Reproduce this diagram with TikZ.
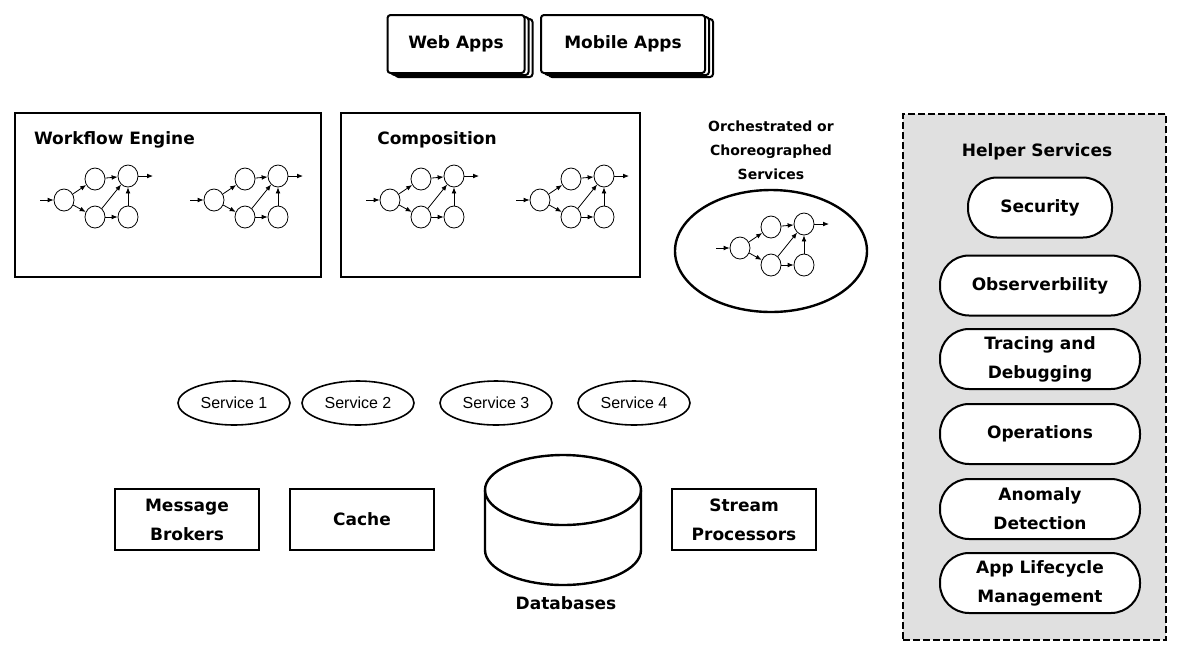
\documentclass[tikz,border=0pt]{standalone}
\usepackage{fontspec}
\setmainfont{DejaVu Sans}
\newfontfamily\svcfont{Liberation Sans}
\usetikzlibrary{shapes.geometric, shadows, arrows.meta}

\definecolor{helpergray}{RGB}{224,224,224}

\tikzset{
    lbl/.style={font=\bfseries\fontsize{8.5}{14.5}\selectfont, align=center},
    appbox/.style={lbl, draw, line width=1pt, fill=white, rounded corners=1.5pt,
        minimum height=29pt,
        double copy shadow={shadow xshift=2pt, shadow yshift=-1pt, draw, line width=1pt, fill=white}},
    panel/.style={draw, line width=1.2pt, minimum height=82pt},
    plainbox/.style={lbl, draw, line width=1pt, minimum width=72pt, minimum height=30.5pt},
    svc/.style={draw, ellipse, line width=0.8pt, inner sep=0pt, minimum width=56pt,
        minimum height=22pt, font=\svcfont\fontsize{8}{10}\selectfont},
    pill/.style={lbl, draw, line width=1pt, fill=white, rounded corners=14.5pt,
        minimum width=100pt, minimum height=30pt, inner sep=1pt},
    dot/.style={draw, ellipse, line width=0.4pt, inner sep=0pt, minimum width=10pt, minimum height=11pt},
}

\begin{document}
\begin{tikzpicture}[x=0.5pt, y=-0.5pt, >={Latex[length=3pt,width=2.4pt]}]
    \useasboundingbox (0,0) rectangle (1180,655);

    \node[appbox, minimum width=68.5pt] (web) at (456,44) {Web Apps};
    \node[appbox, minimum width=82pt] (mobile) at (623,44) {Mobile Apps};

    \node[panel, minimum width=153pt] (wfe) at (168,195) {};
    \node[lbl, anchor=west] (wfetitle) at (27,140) {Workflow Engine};
    \node[panel, minimum width=149.5pt] (comp) at (490.5,195) {};
    \node[lbl] (comptitle) at (437,140) {Composition};

    \node[lbl, font=\bfseries\fontsize{7}{12}\selectfont] (orchtitle) at (771,150)
        {Orchestrated or\\Choreographed\\Services};
    \node[draw, ellipse, line width=1.2pt, minimum width=96pt, minimum height=61pt] (orch) at (771,251) {};

    % little flow graphs
    \foreach \g/\gx/\gy in {wa/64/200, wb/214/200, ca/390/200, cb/540/200, oa/740/248} {
        \begin{scope}[shift={(\gx,\gy)}]
            \node[dot] (\g1) at (0,0) {};
            \node[dot] (\g2) at (31,-21) {};
            \node[dot] (\g3) at (64,-24) {};
            \node[dot] (\g4) at (31,17) {};
            \node[dot] (\g5) at (64,17) {};
            \coordinate (\g in) at (-24,0);
            \coordinate (\g out) at (89,-24);
            \draw[->, line width=0.4pt] (\g in) -- (\g1);
            \draw[->, line width=0.4pt] (\g1) -- (\g2);
            \draw[->, line width=0.4pt] (\g1) -- (\g4);
            \draw[->, line width=0.4pt] (\g2) -- (\g3);
            \draw[->, line width=0.4pt] (\g4) -- (\g3);
            \draw[->, line width=0.4pt] (\g4) -- (\g5);
            \draw[->, line width=0.4pt] (\g5) -- (\g3);
            \draw[->, line width=0.4pt] (\g3) -- (\g out);
        \end{scope}
    }

    \node[svc] (s1) at (234,403) {Service 1};
    \node[svc] (s2) at (358,403) {Service 2};
    \node[svc] (s3) at (496,403) {Service 3};
    \node[svc] (s4) at (634,403) {Service 4};

    \node[plainbox] (broker) at (187,519.5) {Message\\Brokers};
    \node[plainbox] (cache) at (362,519.5) {Cache};
    \node[plainbox] (stream) at (744,519.5) {Stream\\Processors};

    \draw[line width=1.2pt] (485,490) -- (485,550) arc[start angle=180, end angle=0, x radius=78, y radius=35] -- (641,490);
    \draw[line width=1.2pt] (563,490) ellipse [x radius=78, y radius=35];
    \node[lbl] (db) at (566,603) {Databases};

    \node[draw, line width=1pt, dash pattern=on 3.5pt off 1.5pt, fill=helpergray,
        minimum width=131.5pt, minimum height=263pt] (helper) at (1034.5,377) {};
    \node[lbl] (helpertitle) at (1037,152) {Helper Services};
    \node[pill, minimum width=72pt] (sec) at (1040,207.5) {Security};
    \node[pill] (obs) at (1040,285.5) {Observerbility};
    \node[pill] (trace) at (1040,359) {Tracing and\\Debugging};
    \node[pill] (ops) at (1040,434) {Operations};
    \node[pill] (anom) at (1040,509) {Anomaly\\Detection};
    \node[pill] (life) at (1040,583) {App Lifecycle\\Management};
\end{tikzpicture}
\end{document}
